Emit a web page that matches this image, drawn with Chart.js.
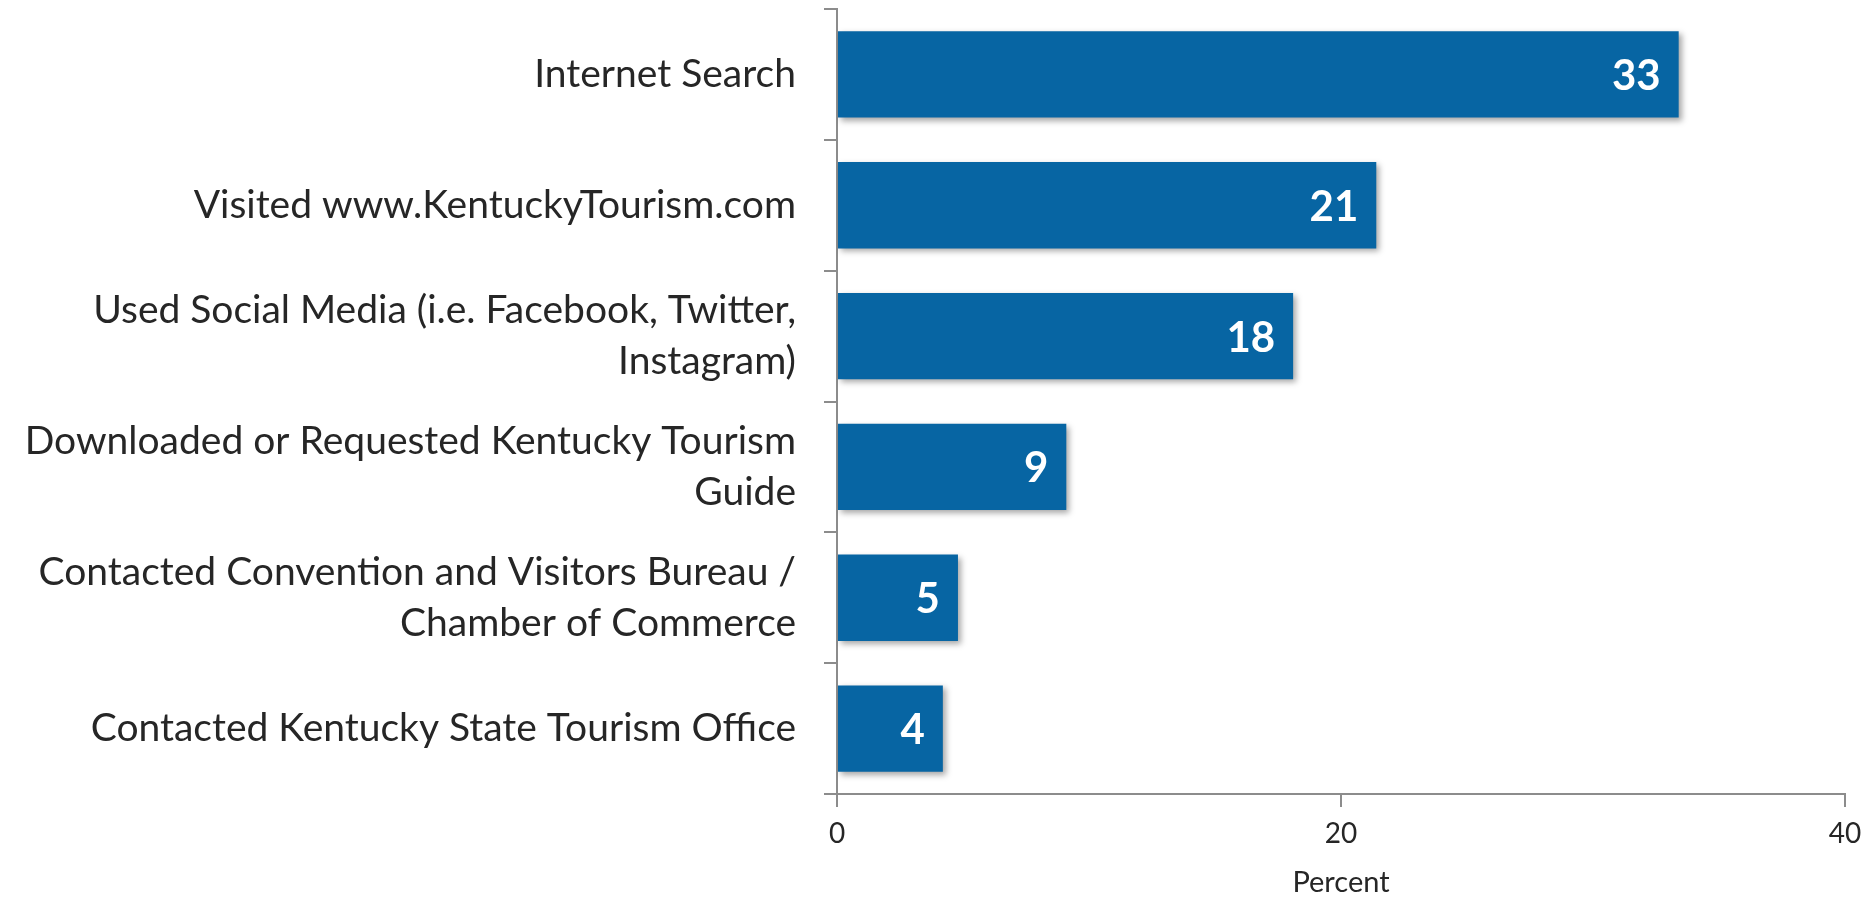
<!DOCTYPE html>
<html>
<head>
<meta charset="utf-8">
<script src="https://cdn.jsdelivr.net/npm/chart.js@4"></script>
<style>
  html, body { margin: 0; padding: 0; background: #fff; }
  #wrap { width: 1872px; height: 900px; }
</style>
</head>
<body>
<div id="wrap"><canvas id="grafik" width="1872" height="900"></canvas></div>
<script>
const kategori = [
    "Internet Search",
    "Visited www.KentuckyTourism.com",
    ["Used Social Media (i.e. Facebook, Twitter,", "Instagram)"],
    ["Downloaded or Requested Kentucky Tourism", "Guide"],
    ["Contacted Convention and Visitors Bureau /", "Chamber of Commerce"],
    "Contacted Kentucky State Tourism Office"
];
const persen = [33.4, 21.4, 18.1, 9.1, 4.8, 4.2];
const tickX = [0, 20, 40];

const warnaBar = "#0765a3";
const warnaTeks = "#262626";
const warnaSumbu = "#8c8c8c";
const huruf = "Lato, 'Open Sans', sans-serif";

// bayangan tipis di bawah bar
const bayangan = {
    id: "bayangan",
    beforeDatasetsDraw(chart) {
        const ctx = chart.ctx;
        ctx.save();
        ctx.shadowColor = "rgba(0,0,0,0.35)";
        ctx.shadowBlur = 6;
        ctx.shadowOffsetX = 3;
        ctx.shadowOffsetY = 3;
    },
    afterDatasetsDraw(chart) {
        chart.ctx.restore();
    }
};

// angka putih di ujung bar
const labelNilai = {
    id: "labelNilai",
    afterDatasetsDraw(chart) {
        const ctx = chart.ctx;
        const meta = chart.getDatasetMeta(0);
        ctx.save();
        ctx.fillStyle = "#ffffff";
        ctx.font = "bold 42px " + huruf;
        ctx.textAlign = "right";
        ctx.textBaseline = "middle";
        meta.data.forEach((bar, i) => {
            ctx.fillText(persen[i].toFixed(0), bar.x - 18, bar.y + 2);
        });
        ctx.restore();
    }
};

const ctx = document.getElementById("grafik").getContext("2d");
new Chart(ctx, {
    type: "bar",
    data: {
        labels: kategori,
        datasets: [{
            data: persen,
            backgroundColor: warnaBar,
            borderWidth: 0,
            categoryPercentage: 1,
            barPercentage: 0.66
        }]
    },
    options: {
        indexAxis: "y",
        responsive: false,
        animation: false,
        layout: { padding: { top: 9, right: 27, left: 0, bottom: 0 } },
        plugins: {
            legend: { display: false },
            tooltip: { enabled: false }
        },
        scales: {
            x: {
                min: 0,
                max: 40,
                afterBuildTicks(scale) {
                    scale.ticks = tickX.map(v => ({ value: v }));
                },
                grid: {
                    drawOnChartArea: false,
                    drawTicks: true,
                    tickLength: 13,
                    color: warnaSumbu,
                    lineWidth: 2
                },
                border: { color: warnaSumbu, width: 2 },
                ticks: {
                    color: warnaTeks,
                    font: { family: huruf, size: 28 },
                    padding: 10
                },
                title: {
                    display: true,
                    text: "Percent",
                    color: warnaTeks,
                    font: { family: huruf, size: 29 },
                    padding: { top: 6, bottom: 0 }
                },
                afterFit(scale) {
                    scale.height = 106;
                }
            },
            y: {
                grid: {
                    offset: true,
                    drawOnChartArea: false,
                    drawTicks: true,
                    tickLength: 13,
                    color: warnaSumbu,
                    lineWidth: 2
                },
                border: { color: warnaSumbu, width: 2 },
                ticks: {
                    color: warnaTeks,
                    font: { family: huruf, size: 39, lineHeight: 1.31 },
                    padding: 28,
                    autoSkip: false
                },
                afterFit(scale) {
                    scale.width = 837;
                    scale.paddingTop = 0;
                    scale.paddingBottom = 0;
                }
            }
        }
    },
    plugins: [bayangan, labelNilai]
});
</script>
</body>
</html>
